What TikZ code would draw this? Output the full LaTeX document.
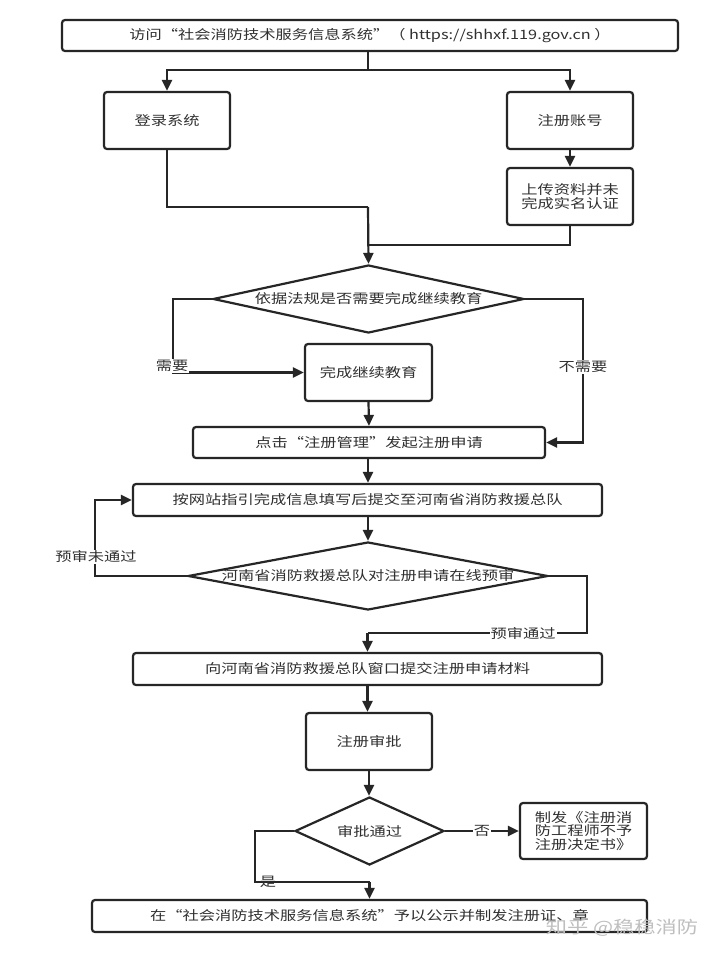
\documentclass[tikz,border=0pt]{standalone}
\usepackage{fontspec}
\setmainfont{Noto Sans CJK SC}[FakeStretch=1.25]
\usetikzlibrary{shapes.geometric,arrows.meta}
\definecolor{ink}{HTML}{262626}
\definecolor{txt}{HTML}{303030}
\tikzset{
  box/.style={draw=ink,line width=2.2pt,rounded corners=3pt,inner sep=0pt,text=txt,align=center,font=\fontsize{13}{13.5}\selectfont},
  dia/.style={draw=ink,line width=2.2pt,diamond,inner sep=0pt,text=txt,font=\fontsize{13}{13.5}\selectfont},
  conn/.style={draw=ink,line width=2.2pt},
  arr/.style={conn,-{Triangle[length=11pt,width=10pt]}},
  lbl/.style={fill=white,inner sep=1pt,text=txt,font=\fontsize{13}{13.5}\selectfont},
}
\begin{document}
\begin{tikzpicture}[x=1pt,y=-1pt]
\useasboundingbox (0,0) rectangle (720,956);
\fill[white] (0,0) rectangle (720,956);
% boxes
\node[box,minimum width=616pt,minimum height=31pt] (top) at (370,35.5) {访问“社会消防技术服务信息系统”（ https://shhxf.119.gov.cn ）};
\node[box,minimum width=126pt,minimum height=57pt] (login) at (167,120.5) {登录系统};
\node[box,minimum width=126pt,minimum height=57pt] (reg) at (570,120.5) {注册账号};
\node[box,minimum width=126pt,minimum height=57pt] (upload) at (570,196.5) {上传资料并未\\完成实名认证};
\node[dia,minimum width=311pt,minimum height=68pt] (d1) at (368.5,299) {\makebox[0pt]{依据法规是否需要完成继续教育}};
\node[box,minimum width=127pt,minimum height=57pt] (edu) at (368.5,372.5) {完成继续教育};
\node[box,minimum width=352pt,minimum height=31pt] (click) at (369,442.5) {点击“注册管理”发起注册申请};
\node[box,minimum width=469pt,minimum height=32pt] (submit) at (367.5,500) {按网站指引完成信息填写后提交至河南省消防救援总队};
\node[dia,minimum width=360pt,minimum height=68pt] (d2) at (368,576) {\makebox[0pt]{河南省消防救援总队对注册申请在线预审}};
\node[box,minimum width=469pt,minimum height=32pt] (window) at (367.5,669) {向河南省消防救援总队窗口提交注册申请材料};
\node[box,minimum width=126pt,minimum height=57pt] (approve) at (369,741.5) {注册审批};
\node[dia,minimum width=149pt,minimum height=68pt] (d3) at (369.5,831) {\makebox[0pt]{审批通过}};
\node[box,minimum width=127pt,minimum height=56pt] (reject) at (583.5,831) {制发《注册消\\防工程师不予\\注册决定书》};
\node[box,minimum width=555pt,minimum height=32pt] (final) at (369.5,916) {在“社会消防技术服务信息系统”予以公示并制发注册证、章};
% coordinates
\coordinate (s) at (368,70);
\coordinate (j1) at (368,207);
\coordinate (j2) at (368,245);
\coordinate (nl) at (173,372.5);
\coordinate (nr) at (583,442.5);
\coordinate (fl) at (95,500);
\coordinate (fr1) at (587,633);
\coordinate (fr2) at (367.5,633);
\coordinate (yl) at (255,882);
\coordinate (yr) at (369.5,882);
% connectors
\draw[conn] (s |- top.south) -- (s);
\draw[arr] (s) -| (login.north);
\draw[arr] (s) -| (reg.north);
\draw[arr] (reg.south) -- (upload.north);
\draw[conn] (login.south) |- (j1);
\draw[conn] (upload.south) |- (j2);
\draw[arr] (j1) -- (d1.north);
\draw[arr] (d1.west) -| (nl) -- (edu.west);
\draw[arr] (d1.east) -| (nr) -- (click.east);
\draw[arr] (edu.south) -- (click.north);
\draw[arr] (click.south -| s) -- (submit.north -| s);
\draw[arr] (submit.south -| s) -- (d2.north -| s);
\draw[arr] (d2.west) -| (fl) -- (submit.west);
\draw[conn] (d2.east) -| (fr1) -- (fr2);
\draw[arr] (fr2) -- (window.north);
\draw[arr] (window.south) -- (window.south |- approve.north);
\draw[arr] (approve.south) -- (approve.south |- d3.north);
\draw[arr] (d3.east) -- (reject.west);
\draw[conn] (d3.west) -| (yl) -- (yr);
\draw[arr] (yr) -- (final.north -| yr);
% labels
\node[lbl] (l1) at (172,366) {需要};
\node[lbl] (l2) at (583,367) {不需要};
\node[lbl] (l3) at (96,557) {预审未通过};
\node[lbl] (l4) at (523,633) {预审通过};
\node[lbl] (l5) at (482,831) {否};
\node[lbl,fill=none] (l6) at (268,882) {是};
% watermark
\node[text=gray!50,font=\fontsize{17}{18}\selectfont,inner sep=0pt] (wm) at (622,928) {知乎 @稳稳消防};
\end{tikzpicture}
\end{document}
